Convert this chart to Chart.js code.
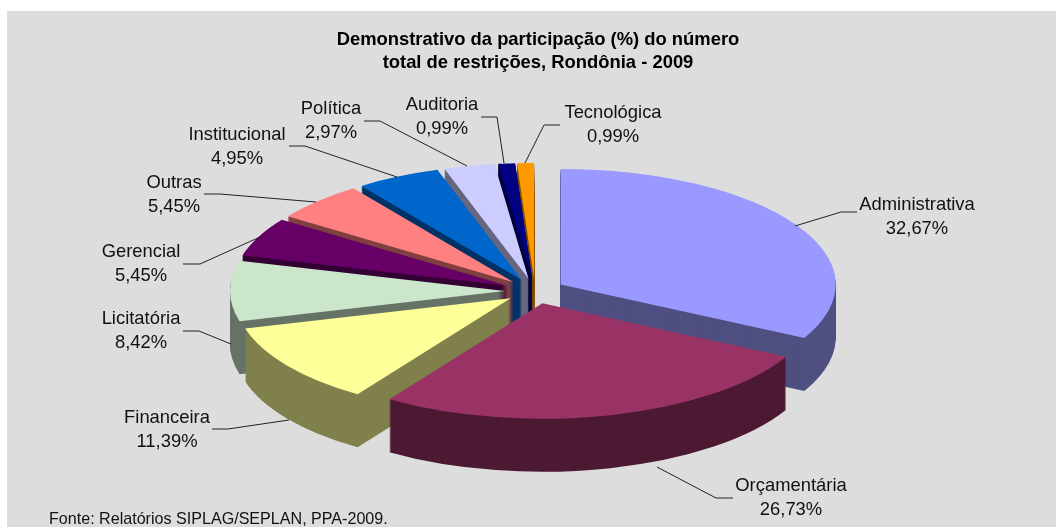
<!DOCTYPE html>
<html lang="pt">
<head>
<meta charset="utf-8">
<title>Demonstrativo</title>
<style>html,body{margin:0;padding:0;background:#fff}canvas{display:block}</style>
<script src="https://cdn.jsdelivr.net/npm/chart.js@4"></script>
</head>
<body>
<canvas id="c" width="1056" height="527"></canvas>
<script>
const categories = ['Administrativa','Orçamentária','Financeira','Licitatória','Gerencial','Outras','Institucional','Política','Auditoria','Tecnológica'];
const shares = [32.67,26.73,11.39,8.42,5.45,5.45,4.95,2.97,0.99,0.99];
const topColors = ['#9999FF','#993366','#FFFF99','#CCE6CC','#660066','#FF8080','#0066CC','#CCCCFF','#000080','#FF9900'];
const wallColors = ['#4F4F80','#4D1A33','#80804D','#667366','#330033','#804040','#003366','#666680','#000040','#804D00'];
const titleLines = ['Demonstrativo da participação (%) do número','total de restrições, Rondônia - 2009'];
const sourceNote = 'Fonte: Relatórios SIPLAG/SEPLAN, PPA-2009.';

// Layout of the projected pie
const PIE = {cx:535, cy:291, radius:275, tilt:0.42, depth:53, explode:30};
// Label anchors: text centre x, first baseline y; leader polyline
const labelLayout = [
  {x:917,y:210,line:[[857,212],[841,212],[795,226]]},
  {x:791,y:491,line:[[733,498],[716,498],[657,467]]},
  {x:167,y:423,line:[[212,429],[228,429],[289,420]]},
  {x:141,y:324,line:[[183,331],[199,331],[231,344]]},
  {x:141,y:257,line:[[183,264],[200,264],[260,237]]},
  {x:174,y:188,line:[[204,194],[220,194],[316,202]]},
  {x:237,y:140,line:[[289,146],[305,146],[397,177]]},
  {x:331,y:114,line:[[364,121],[380,121],[467,166]]},
  {x:442,y:110,line:[[481,117],[497,117],[504,163]]},
  {x:613,y:118,line:[[560,125],[544,125],[525,163]]}
];
const FONT = '"Liberation Sans", Arial, sans-serif';

const panelPlugin = {
  id:'panel',
  beforeDraw(chart){
    const c = chart.ctx;
    c.save();
    c.fillStyle = '#DDDDDD';
    c.fillRect(7,11,chart.width-7,chart.height-11);
    c.restore();
  }
};

const pie3d = {
  id:'pie3d',
  beforeDatasetDraw(chart,args){
    const c = chart.ctx;
    const arcs = chart.getDatasetMeta(args.index).data;
    const mid = a => (a.startAngle + a.endAngle)/2;
    const order = arcs.map((a,i)=>i).sort((p,q)=>Math.sin(mid(arcs[p]))-Math.sin(mid(arcs[q])));
    order.forEach(i=>{
      const a = arcs[i], m = mid(a), base = a.options;
      const dx = Math.cos(m)*PIE.explode, dy = Math.sin(m)*PIE.explode*PIE.tilt;
      const face = (lift,color)=>{
        c.save();
        c.translate(PIE.cx+dx, PIE.cy+dy+lift);
        c.scale(1,PIE.tilt);
        c.translate(-a.x,-a.y);
        a.options = Object.assign({},base,{backgroundColor:color,borderColor:color,borderWidth:0});
        a.draw(c);
        a.options = base;
        c.restore();
      };
      for(let d=PIE.depth;d>0;d--) face(d,wallColors[i]);
      face(0,topColors[i]);
    });
    return false;
  },
  afterDraw(chart){
    const c = chart.ctx;
    c.save();
    c.strokeStyle = '#222';
    c.lineWidth = 1;
    labelLayout.forEach(l=>{
      c.beginPath();
      l.line.forEach((p,j)=> j? c.lineTo(p[0],p[1]) : c.moveTo(p[0],p[1]));
      c.stroke();
    });
    c.fillStyle = '#111';
    c.font = '18.4px '+FONT;
    c.textAlign = 'center';
    c.textBaseline = 'alphabetic';
    labelLayout.forEach((l,i)=>{
      c.fillText(categories[i],l.x,l.y);
      c.fillText(shares[i].toFixed(2).replace('.',',')+'%',l.x,l.y+24);
    });
    c.textAlign = 'left';
    c.font = '16.1px '+FONT;
    c.fillText(sourceNote,49,524);
    c.restore();
  }
};

new Chart(document.getElementById('c'),{
  type:'pie',
  data:{labels:categories,datasets:[{data:shares,backgroundColor:topColors,borderWidth:0}]},
  options:{
    responsive:false,
    animation:false,
    radius:PIE.radius,
    layout:{padding:{left:20,top:28}},
    events:[],
    plugins:{
      legend:{display:false},
      tooltip:{enabled:false},
      title:{display:true,text:titleLines,color:'#000',padding:0,font:{family:FONT,size:18.4,weight:'bold',lineHeight:1.25}}
    }
  },
  plugins:[panelPlugin,pie3d]
});
</script>
</body>
</html>
